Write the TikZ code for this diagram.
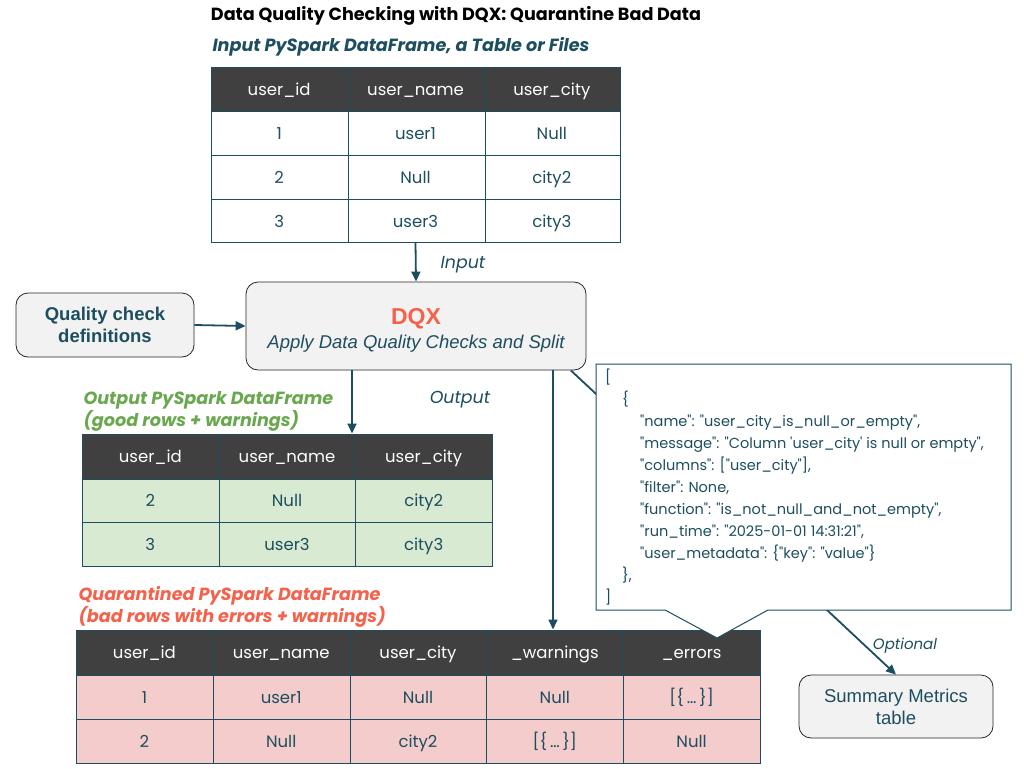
\documentclass[tikz,border=0pt]{standalone}
\usepackage{fontspec}
\setmainfont{Poppins}
\newfontfamily\jsonfont{Poppins}[Ligatures=TeXOff]
\newfontfamily\arialfont{Liberation Sans}
\usetikzlibrary{arrows.meta}

\definecolor{dqteal}{HTML}{1D4E5F}
\definecolor{hdrgray}{HTML}{404040}
\definecolor{goodgreen}{HTML}{6AA84F}
\definecolor{goodfill}{HTML}{D9EAD3}
\definecolor{dqred}{HTML}{F5614A}
\definecolor{badfill}{HTML}{F4CCCC}
\definecolor{boxgray}{HTML}{F2F2F2}

\tikzset{
  arr/.style={draw=dqteal, line width=1.8pt, -{Triangle[length=10pt,width=9pt]}},
  grid/.style={draw=dqteal, line width=1pt},
  hdrtext/.style={text=white, anchor=base, yshift=-6pt, font=\fontsize{16.5}{20}\selectfont},
  celltext/.style={text=dqteal, anchor=base, yshift=-6pt, font=\fontsize{16.5}{20}\selectfont},
  heading/.style={anchor=west, align=left, font=\bfseries\itshape\fontsize{17.6}{22}\selectfont},
  procbox/.style={draw=black!85, fill=boxgray, rounded corners=12pt, line width=0.8pt,
    text=dqteal, align=center, inner sep=0pt, font=\arialfont\fontsize{18.5}{22}\selectfont},
  flowlabel/.style={text=dqteal, font=\itshape\fontsize{17.4}{20}\selectfont}
}

\begin{document}
\begin{tikzpicture}[x=1pt,y=-1pt]
\useasboundingbox (0,0) rectangle (1024,768);

% title and headings
\node[font=\bfseries\fontsize{17.6}{19}\selectfont] (title) at (456,16) {Data Quality Checking with DQX: Quarantine Bad Data};
\node[heading, text=dqteal] (inhead) at (209,47) {Input PySpark DataFrame, a Table or Files};
\node[heading, text=goodgreen] (outhead) at (80,411.5) {Output PySpark DataFrame\\(good rows + warnings)};
\node[heading, text=dqred] (qhead) at (75,607) {Quarantined PySpark DataFrame\\(bad rows with errors + warnings)};

% input table
\fill[hdrgray] (211,67) rectangle (620,111);
\node[grid, inner sep=0pt, minimum width=409pt, minimum height=175pt] (intab) at (415.5,154.5) {};
\draw[grid] (348,67) -- (348,242) (485,67) -- (485,242)
  (211,111) -- (620,111) (211,155) -- (620,155) (211,199) -- (620,199);
\foreach \t [count=\i] in {user\_id,user\_name,user\_city}
  \node[hdrtext] (in-h\i) at ({211+136.33*(\i-0.5)},89) {\t};
\foreach \t [count=\i] in {1,user1,Null}
  \node[celltext] (in-a\i) at ({211+136.33*(\i-0.5)},133) {\t};
\foreach \t [count=\i] in {2,Null,city2}
  \node[celltext] (in-b\i) at ({211+136.33*(\i-0.5)},177) {\t};
\foreach \t [count=\i] in {3,user3,city3}
  \node[celltext] (in-c\i) at ({211+136.33*(\i-0.5)},221) {\t};

% output table (good rows)
\fill[hdrgray] (82,434) rectangle (492,479);
\fill[goodfill] (82,479) rectangle (492,566);
\node[grid, inner sep=0pt, minimum width=410pt, minimum height=132pt] (outtab) at (287,500) {};
\draw[grid] (219,434) -- (219,566) (355,434) -- (355,566)
  (82,479) -- (492,479) (82,522) -- (492,522);
\foreach \t [count=\i] in {user\_id,user\_name,user\_city}
  \node[hdrtext] (out-h\i) at ({82+136.67*(\i-0.5)},456.5) {\t};
\foreach \t [count=\i] in {2,Null,city2}
  \node[celltext] (out-a\i) at ({82+136.67*(\i-0.5)},500.5) {\t};
\foreach \t [count=\i] in {3,user3,city3}
  \node[celltext] (out-b\i) at ({82+136.67*(\i-0.5)},544) {\t};

% quarantine table (bad rows)
\fill[hdrgray] (76,630) rectangle (760,675);
\fill[badfill] (76,675) rectangle (760,763);
\node[grid, inner sep=0pt, minimum width=684pt, minimum height=133pt] (qtab) at (418,696.5) {};
\draw[grid] (213,630) -- (213,763) (350,630) -- (350,763) (486,630) -- (486,763) (623,630) -- (623,763)
  (76,675) -- (760,675) (76,719) -- (760,719);
\foreach \t [count=\i] in {user\_id,user\_name,user\_city,\_warnings,\_errors}
  \node[hdrtext] (q-h\i) at ({76+136.8*(\i-0.5)},652.5) {\t};
\foreach \t [count=\i] in {1,user1,Null,Null,{[\{\,…\,\}]}}
  \node[celltext] (q-a\i) at ({76+136.8*(\i-0.5)},697) {\t};
\foreach \t [count=\i] in {2,Null,city2,{[\{\,…\,\}]},Null}
  \node[celltext] (q-b\i) at ({76+136.8*(\i-0.5)},741) {\t};

% process boxes
\node[procbox, minimum width=340pt, minimum height=88pt] (dqx) at (416,326) {};
\node[text=dqteal, align=center, font=\arialfont\fontsize{18.5}{22}\selectfont] (dqxtext) at ([yshift=-4pt]dqx.center)
  {{\bfseries\fontsize{23}{24}\selectfont\color{dqred}DQX}\\[2pt]{\itshape Apply Data Quality Checks and Split}};
\node[procbox, minimum width=178pt, minimum height=64pt] (qcd) at (105,325) {\bfseries Quality check\\\bfseries definitions};
\node[procbox, minimum width=194pt, minimum height=63pt] (sum) at (896,706.5) {Summary Metrics\\table};

% connectors
\draw[arr] (intab.south) -- (dqx.north);
\node[flowlabel] (inlabel) at (463,265) {Input};
\draw[arr] (qcd.east) -- (dqx.west);
\draw[arr] (dqx.south -| 352,0) -- (outtab.north -| 352,0);
\node[flowlabel] (outlabel) at (460,400) {Output};
\draw[arr] (dqx.south -| 553,0) -- (qtab.north -| 553,0);
\draw[arr] (dqx.-16) -- (sum.north);
\node[flowlabel, font=\itshape\fontsize{15}{16}\selectfont] (optlabel) at (905,646) {Optional};

% callout with error structure
\draw[dqteal, fill=white, line width=1pt] (596,364) -- (1011,364) -- (1011,610) -- (768,610)
  -- (717,638) -- (665,610) -- (596,610) -- cycle;
\node[anchor=north west, align=left, inner sep=0pt, text=dqteal, font=\jsonfont\fontsize{14.5}{22}\selectfont] (json) at (605,369)
  {[\\
   \hspace{17pt}\{\\
   \hspace{35pt}"name": "user\_city\_is\_null\_or\_empty",\\
   \hspace{35pt}"message": "Column 'user\_city' is null or empty",\\
   \hspace{35pt}"columns": ["user\_city"],\\
   \hspace{35pt}"filter": None,\\
   \hspace{35pt}"function": "is\_not\_null\_and\_not\_empty",\\
   \hspace{35pt}"run\_time": "2025-01-01 14:31:21",\\
   \hspace{35pt}"user\_metadata": \{"key": "value"\}\\
   \hspace{17pt}\},\\
   ]};
\end{tikzpicture}
\end{document}
